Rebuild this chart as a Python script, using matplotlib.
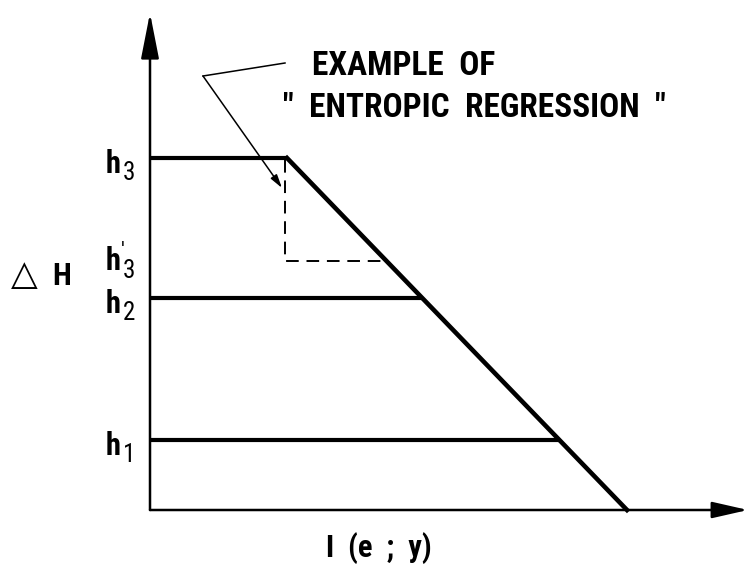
import matplotlib
matplotlib.use("Agg")
import matplotlib.pyplot as plt

# ---- data (diagram units) ----
levels = [70, 212, 352]           # h1, h2, h3
level_subs = ["1", "2", "3"]
h3_prime = 249                    # level after entropic regression
cap_at_top = 137                  # I(e;y) where the diagonal meets h3
cap_at_zero = 477                 # I(e;y) where the diagonal meets dH = 0
x_max = 598
y_max = 497

FAM = ["Roboto Condensed", "DejaVu Sans"]

fig = plt.figure(figsize=(7.52, 5.76), dpi=100)
ax = fig.add_axes([0, 0, 1, 1])
ax.set_xlim(-150, 602)
ax.set_ylim(-66, 510)
ax.axis("off")


def cap(h):
    return cap_at_zero + (cap_at_top - cap_at_zero) * h / levels[-1]


# axes with arrows
ax.annotate("", xy=(x_max, 0), xytext=(0, 0),
            arrowprops=dict(arrowstyle="-|>,head_length=2.2,head_width=0.5",
                            lw=1.8, color="black", shrinkA=0, shrinkB=0))
ax.annotate("", xy=(0, y_max), xytext=(0, 0),
            arrowprops=dict(arrowstyle="-|>,head_length=2.8,head_width=0.55",
                            lw=1.8, color="black", shrinkA=0, shrinkB=0))

# horizontal levels
for h in levels:
    ax.plot([0, cap(h)], [h, h], color="black", lw=3.0, solid_capstyle="butt")
# diagonal boundary
ax.plot([cap(levels[-1]), cap(0)], [levels[-1], 0], color="black", lw=3.3,
        solid_capstyle="projecting")

# dashed regression path
xd = cap(levels[-1]) - 2
ax.plot([xd, xd, cap(h3_prime)], [levels[-1] - 2, h3_prime, h3_prime],
        color="black", lw=1.4, dashes=(6.5, 4))

# level labels
for h, s in zip(levels, level_subs):
    ax.text(-44, h - 15, "h", fontsize=22, fontweight="bold", family=FAM,
            ha="left", va="baseline")
    ax.text(-27, h - 22, s, fontsize=18, family=FAM, ha="left", va="baseline")
ax.text(-44, h3_prime - 9, "h", fontsize=22, fontweight="bold", family=FAM,
        ha="left", va="baseline")
ax.text(-29, h3_prime + 4, "\u2032", fontsize=16, family=FAM, ha="left", va="baseline")
ax.text(-27, h3_prime - 17, "3", fontsize=18, family=FAM, ha="left", va="baseline")

ax.text(-139, 225, "\u25B3", fontsize=25, fontweight="bold", family=FAM,
        ha="left", va="baseline")
ax.text(-98, 225, "H", fontsize=22, fontweight="bold", family=FAM, ha="left", va="baseline")
ax.text(229, -47, "I  (e  ;  y)", fontsize=22, fontweight="bold", family=FAM,
        ha="center", va="baseline")

ax.text(162, 435, "EXAMPLE  OF", fontsize=24, fontweight="bold", family=FAM,
        ha="left", va="baseline")
ax.text(133, 393, '"  ENTROPIC  REGRESSION  "', fontsize=24, fontweight="bold",
        family=FAM, ha="left", va="baseline")

# pointer
corner = (53, 434)
ax.plot([135, corner[0]], [447, corner[1]], color="black", lw=1.1)
ax.annotate("", xy=(xd - 3, 322), xytext=corner,
            arrowprops=dict(arrowstyle="-|>,head_length=0.8,head_width=0.22",
                            lw=1.1, color="black", shrinkA=0, shrinkB=0))

fig.savefig("out.png", dpi=100, facecolor="white")
